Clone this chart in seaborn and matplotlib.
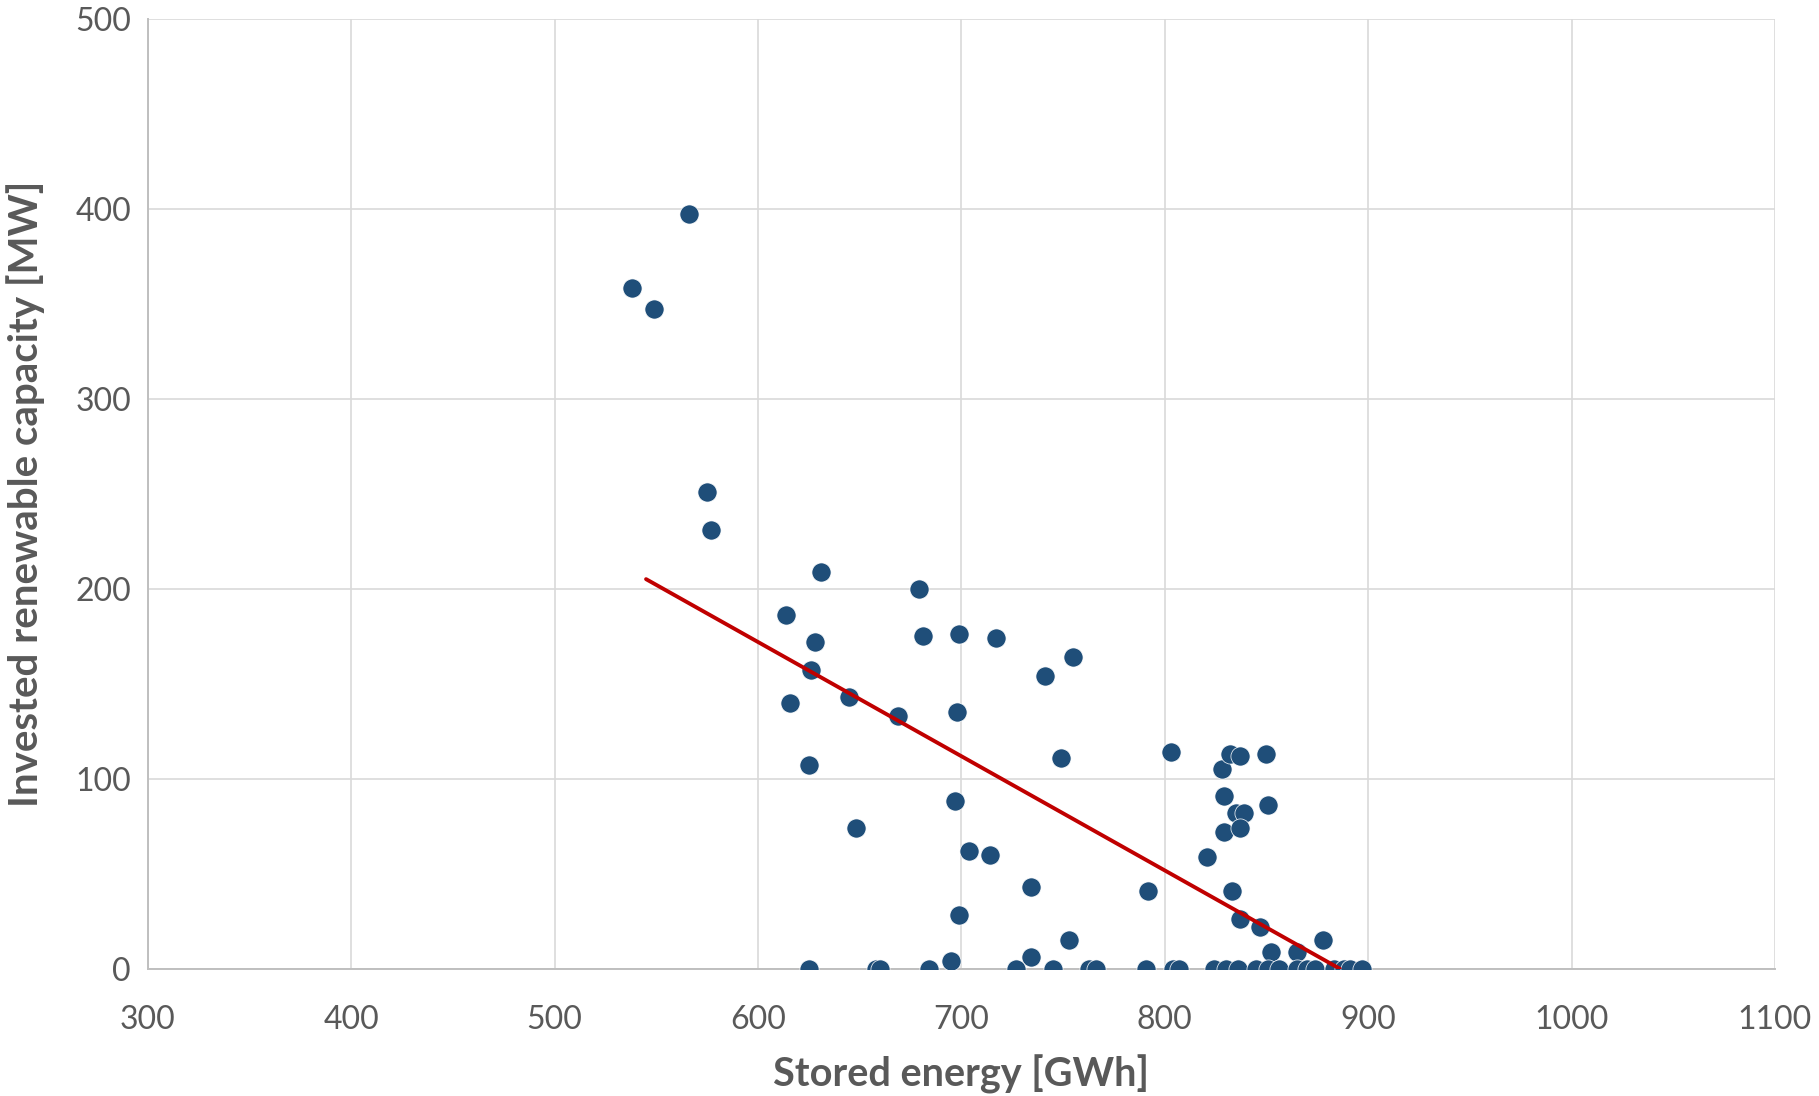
import numpy as np
import pandas as pd
import matplotlib
matplotlib.use("Agg")
import matplotlib.pyplot as plt
import seaborn as sns

# --- Data ---
stored_energy = [
    538, 549, 566, 575, 577, 631, 614, 628, 626, 616, 645, 625, 648, 669,
    679, 681, 699, 698, 717, 741, 755, 749, 697, 704, 714, 734, 699, 695,
    734, 753, 792, 803, 828, 832, 837, 850, 829, 835, 839, 851, 829, 837,
    821, 833, 837, 847, 852, 865, 878,
    # zero-capacity cases
    625, 658, 660, 684, 727, 745, 763, 766, 791, 804, 807, 824, 830, 836,
    845, 851, 856, 865, 870, 874, 883, 888, 891, 897,
]
invested_capacity = [
    358, 347, 397, 251, 231, 209, 186, 172, 157, 140, 143, 107, 74, 133,
    200, 175, 176, 135, 174, 154, 164, 111, 88, 62, 60, 43, 28, 4,
    6, 15, 41, 114, 105, 113, 112, 113, 91, 82, 82, 86, 72, 74,
    59, 41, 26, 22, 9, 9, 15,
    0, 0, 0, 0, 0, 0, 0, 0, 0, 0, 0, 0, 0, 0,
    0, 0, 0, 0, 0, 0, 0, 0, 0, 0,
]
trend_x = [545, 886]
trend_y = [205, 0]

df = pd.DataFrame({"Stored energy": stored_energy, "Invested capacity": invested_capacity})
trend_df = pd.DataFrame({"x": trend_x, "y": trend_y})

# --- Styling ---
sns.set_theme(style="whitegrid")
plt.rcParams["font.family"] = ["Lato", "DejaVu Sans"]
grey = "#595959"

fig = plt.figure(figsize=(18.19, 10.96), dpi=100)
ax = fig.add_axes([0.0812, 0.1162, 0.8946, 0.8668])

sns.scatterplot(data=df, x="Stored energy", y="Invested capacity", ax=ax,
                color="#1F4E79", s=190, edgecolor="white", linewidth=0.5,
                zorder=3, legend=False)
sns.lineplot(data=trend_df, x="x", y="y", ax=ax, color="#C00000",
             linewidth=2.8, zorder=4)

ax.set_xlim(300, 1100)
ax.set_ylim(0, 500)
ax.set_xticks(range(300, 1101, 100))
ax.set_yticks(range(0, 501, 100))
ax.grid(True, color="#D9D9D9", linewidth=1.2)
ax.set_axisbelow(True)
for side in ["top", "right"]:
    ax.spines[side].set_visible(False)
for side in ["left", "bottom"]:
    ax.spines[side].set_color("#BFBFBF")
    ax.spines[side].set_linewidth(1.4)

ax.tick_params(axis="x", labelsize=23, colors=grey, length=0, pad=26)
ax.tick_params(axis="y", labelsize=23, colors=grey, length=0, pad=12)
ax.set_xlabel("Stored energy [GWh]", fontsize=28.5, fontweight="bold",
              color=grey, labelpad=14)
ax.set_ylabel("Invested renewable capacity [MW]", fontsize=29,
              fontweight="bold", color=grey, labelpad=22)

fig.savefig("out.png", dpi=100)
